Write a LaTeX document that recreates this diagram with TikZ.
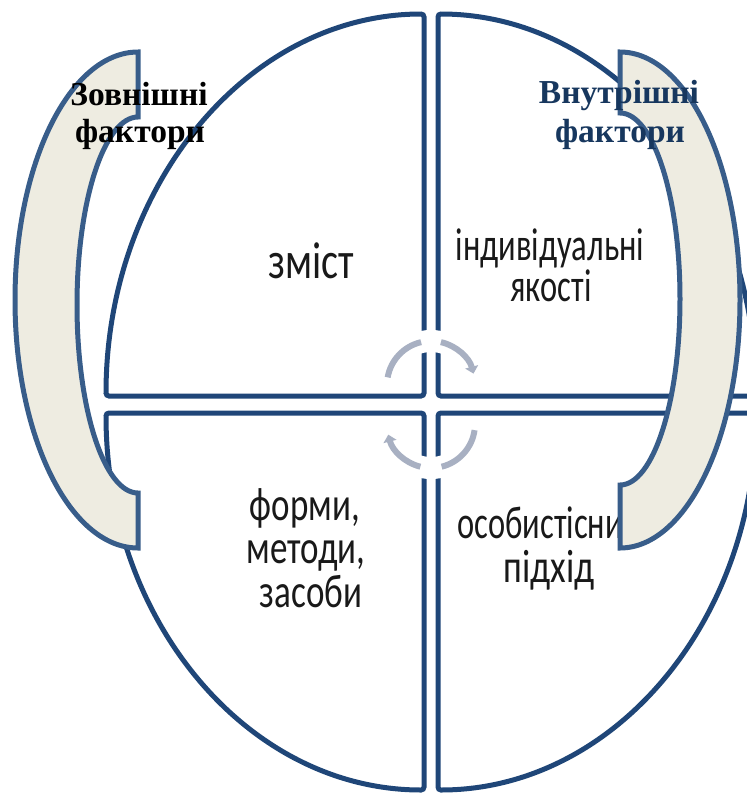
\documentclass[tikz,border=0pt]{standalone}
\usepackage{fontspec}
\setmainfont{Carlito}
\newfontfamily\hdrfont{Liberation Serif}
\usetikzlibrary{arrows.meta}
\definecolor{quadline}{RGB}{31,70,120}
\definecolor{crline}{RGB}{56,93,138}
\definecolor{crfill}{RGB}{238,236,225}
\definecolor{rotgray}{RGB}{168,176,194}
\definecolor{hdrblue}{RGB}{23,55,94}
\newcommand{\tallword}[2][1.42]{\raisebox{0pt}[\height][0pt]{\scalebox{1}[#1]{#2}}}
\tikzset{
  quad/.style={draw=quadline, line width=5pt, fill=white, rounded corners=3pt},
  crescent/.style={draw=crline, line width=5pt, fill=crfill, line join=miter},
  inner/.style={anchor=base, inner sep=0pt, font=\fontsize{32.5}{32.5}\selectfont, text=black!90},
  hdr/.style={anchor=base, inner sep=0pt, font=\hdrfont\bfseries\fontsize{33.5}{40}\selectfont},
  rot/.style={draw=rotgray, line width=6pt},
  halo/.style={draw=white, line width=22pt}
}
\begin{document}
\begin{tikzpicture}[x=1pt,y=-1pt]
\useasboundingbox (0,0) rectangle (747,793);
% four quadrants
\path[quad] (424,396) -- (106,396) arc[start angle=180,end angle=270,x radius=318,y radius=382] -- cycle;
\path[quad] (438,396) -- (438,14) arc[start angle=270,end angle=360,x radius=318,y radius=382] -- cycle;
\path[quad] (424,413) -- (424,790) arc[start angle=90,end angle=180,x radius=318,y radius=377] -- cycle;
\path[quad] (438,413) -- (756,413) arc[start angle=0,end angle=90,x radius=318,y radius=377] -- cycle;
% circular arrows
\coordinate (rotT) at (431,385);
\coordinate (rotB) at (431,424);
\path[halo] ([shift={(248:44)}]rotT) arc[start angle=248,end angle=292,radius=44];
\path[halo] ([shift={(68:44)}]rotB) arc[start angle=68,end angle=112,radius=44];
\path[rot] ([shift={(190:44)}]rotT) arc[start angle=190,end angle=257,radius=44];
\path[rot,-{Triangle[length=7pt,width=13pt]}] ([shift={(283:44)}]rotT) arc[start angle=283,end angle=345,radius=44];
\path[rot] ([shift={(8:44)}]rotB) arc[start angle=8,end angle=76,radius=44];
\path[rot,-{Triangle[length=7pt,width=13pt]}] ([shift={(104:44)}]rotB) arc[start angle=104,end angle=166,radius=44];
% inner texts
\node[inner, font=\fontsize{40}{40}\selectfont] (zmist) at (311,278) {\tallword[1.3]{зміст}};
\node[inner] (indiv) at (550,260) {\tallword{індивідуальні}};
\node[inner] (yakosti) at (551,301) {\tallword{якості}};
\node[inner, font=\fontsize{35}{35}\selectfont] (formy) at (305,520) {\tallword[1.35]{форми,}};
\node[inner, font=\fontsize{35}{35}\selectfont] (metody) at (306,563) {\tallword[1.35]{методи,}};
\node[inner, font=\fontsize{35}{35}\selectfont] (zasoby) at (311,607) {\tallword[1.35]{засоби}};
\node[inner, font=\fontsize{32.5}{32.5}\selectfont] (osob) at (549,538) {\tallword[1.42]{особистісний}};
\node[inner, font=\fontsize{36}{36}\selectfont] (pidkhid) at (549,582) {\tallword[1.3]{підхід}};
% crescents
\path[crescent] (138,52) arc[start angle=270,end angle=90,x radius=123,y radius=248] -- (138,493) arc[start angle=90,end angle=270,x radius=61,y radius=188] -- cycle;
\path[crescent] (620,52) arc[start angle=270,end angle=450,x radius=120,y radius=248] -- (620,485) arc[start angle=90,end angle=-90,x radius=60,y radius=186] -- cycle;
% header texts
\node[hdr] (zovn) at (139,105) {Зовнішні};
\node[hdr] (fakL) at (140,142) {фактори};
\node[hdr, text=hdrblue] (vnutr) at (619,103) {Внутрішні};
\node[hdr, text=hdrblue] (fakR) at (620,142) {фактори};
\end{tikzpicture}
\end{document}
